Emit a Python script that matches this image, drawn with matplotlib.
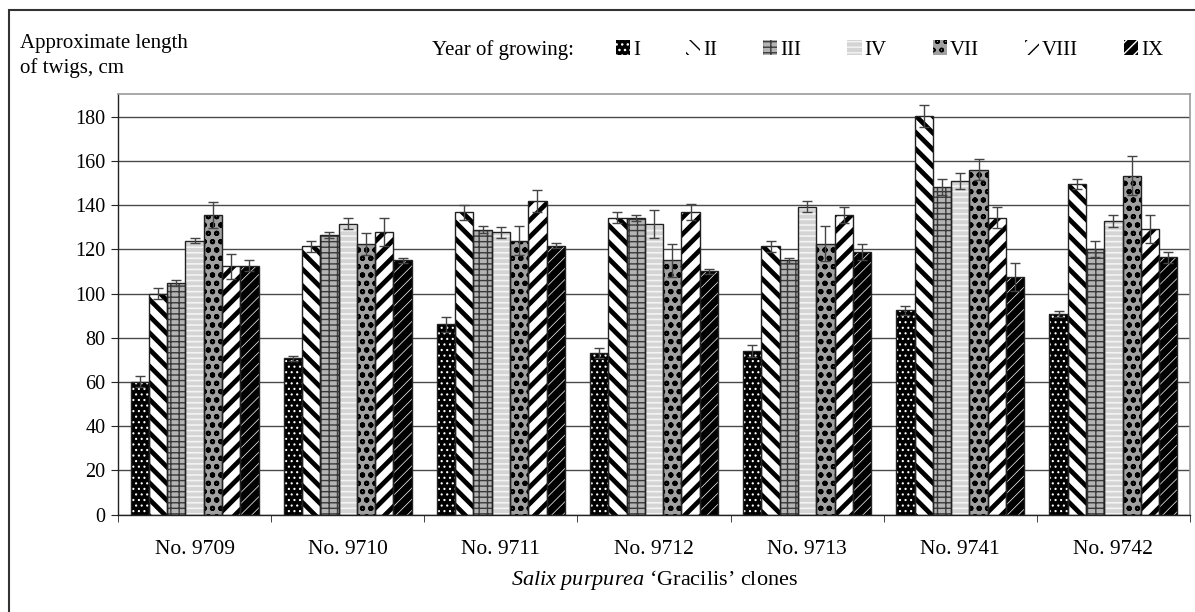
import matplotlib
matplotlib.use("Agg")
import matplotlib.pyplot as plt
from matplotlib.patches import Rectangle, Patch
import numpy as np

clones = ["No. 9709", "No. 9710", "No. 9711", "No. 9712", "No. 9713", "No. 9741", "No. 9742"]
years = ["I", "II", "III", "IV", "VII", "VIII", "IX"]

# mean twig length (cm) per growing year, one value per clone
len_I    = [60.0, 70.6, 86.0, 73.1, 74.2, 92.4, 90.8]
len_II   = [100.0, 121.5, 136.7, 134.2, 121.5, 180.2, 149.5]
len_III  = [104.8, 126.5, 128.9, 134.2, 115.0, 148.2, 120.2]
len_IV   = [124.0, 131.6, 127.8, 131.6, 139.3, 150.8, 132.8]
len_VII  = [135.5, 122.6, 123.9, 115.0, 122.6, 156.0, 153.3]
len_VIII = [112.3, 127.9, 141.9, 136.7, 135.5, 134.3, 129.2]
len_IX   = [112.6, 115.0, 121.7, 110.0, 119.0, 107.5, 116.4]

# standard errors
err_I    = [2.5, 1.0, 3.5, 2.3, 2.7, 2.1, 1.2]
err_II   = [2.5, 2.5, 3.5, 2.5, 2.5, 5.0, 2.3]
err_III  = [1.5, 1.3, 1.5, 1.3, 1.0, 3.8, 3.7]
err_IV   = [1.0, 2.5, 2.5, 6.3, 2.6, 3.7, 2.6]
err_VII  = [6.0, 5.0, 6.5, 7.5, 7.8, 4.8, 8.8]
err_VIII = [5.5, 6.5, 5.0, 3.6, 3.6, 4.8, 6.2]
err_IX   = [2.5, 1.0, 1.0, 1.0, 3.6, 6.3, 2.4]

values = [len_I, len_II, len_III, len_IV, len_VII, len_VIII, len_IX]
errors = [err_I, err_II, err_III, err_IV, err_VII, err_VIII, err_IX]

# fill style per series: face colour, hatch, hatch colour, hatch line width
styles = [
    ("#000000", "...", "#ffffff", 0.8),
    ("#ffffff", "\\\\", "#000000", 3.4),
    ("#b4b4b4", "---||", "#3a3a3a", 1.0),
    ("#d4d4d4", "---", "#f4f4f4", 1.2),
    ("#a0a0a0", "oo", "#000000", 1.4),
    ("#ffffff", "//", "#000000", 3.4),
    ("#000000", "///", "#ffffff", 0.5),
]

plt.rcParams["font.family"] = ["Liberation Serif", "DejaVu Serif"]
plt.rcParams["font.size"] = 14
plt.rcParams["mathtext.fontset"] = "custom"
plt.rcParams["mathtext.rm"] = "Liberation Serif"
plt.rcParams["mathtext.it"] = "Liberation Serif:italic"

W, H = 1195, 612
fig = plt.figure(figsize=(W / 100, H / 100), dpi=100)
ax = fig.add_axes([118 / W, 1 - 514.5 / H, (1190 - 118) / W, (514.5 - 94) / H])

x = np.arange(len(clones))
bw = 0.836 / len(years)
offsets = (np.arange(len(years)) - (len(years) - 1) / 2) * bw

handles = []
for k, (vals, errs, st) in enumerate(zip(values, errors, styles)):
    face, hatch, hcol, hlw = st
    with plt.rc_context({"hatch.linewidth": hlw}):
        bars = ax.bar(x + offsets[k], vals, width=bw, color=face, edgecolor=hcol,
                      linewidth=0, hatch=hatch, zorder=2)
        for b in bars:
            if hasattr(b, "set_hatch_linewidth"):
                b.set_hatch_linewidth(hlw)
    ax.bar(x + offsets[k], vals, width=bw, fill=False, edgecolor="#222222",
           linewidth=1.0, zorder=3)
    ax.errorbar(x + offsets[k], vals, yerr=errs, fmt="none", ecolor="#444444",
                elinewidth=1.0, capsize=3.5, capthick=1.0, zorder=4)
    with plt.rc_context({"hatch.linewidth": min(hlw, 1.5)}):
        h = Patch(facecolor=face, edgecolor=hcol, hatch=hatch, linewidth=0)
        if hasattr(h, "set_hatch_linewidth"):
            h.set_hatch_linewidth(min(hlw, 1.5))
    handles.append(h)

ax.set_xlim(-0.5, len(clones) - 0.5)
ax.set_ylim(0, 190.3)
ax.set_yticks(np.arange(0, 181, 20))
ax.yaxis.grid(True, color="#4a4a4a", linewidth=1.0)
ax.set_axisbelow(True)

ax.set_xticks(x)
ax.set_xticklabels(clones)
ax.set_xticks(np.arange(len(clones) + 1) - 0.5, minor=True)
ax.tick_params(axis="x", which="major", length=0, pad=18, labelsize=15.5)
ax.tick_params(axis="x", which="minor", length=5, direction="out", color="#222222")
ax.tick_params(axis="y", length=5, direction="out", pad=4, labelsize=14.5, color="#222222")

for side in ("left", "bottom"):
    ax.spines[side].set_color("#222222")
    ax.spines[side].set_linewidth(1.0)
for side in ("top", "right"):
    ax.spines[side].set_color("#999999")
    ax.spines[side].set_linewidth(1.2)

ax.set_xlabel("$\\mathit{Salix\\ purpurea}$ \u2018Gracilis\u2019 clones", fontsize=16, labelpad=7)
fig.text(20 / W, 1 - 56 / H, "Approximate length\nof twigs, cm", ha="left", va="center",
         fontsize=15, linespacing=1.35)
fig.text(432 / W, 1 - 50 / H, "Year of growing:", ha="left", va="center", fontsize=15)

fig.legend(handles, years, loc="center left", bbox_to_anchor=(616 / W, 1 - 50 / H),
           ncol=len(years), frameon=False, handlelength=0.68, handleheight=0.68,
           handletextpad=0.15, columnspacing=2.2, borderpad=0, borderaxespad=0,
           fontsize=15)

# outer frame around the chart
fig.add_artist(Rectangle((8.5 / W, -0.05), 1.1, 1.05 - 9.5 / H, transform=fig.transFigure,
                         fill=False, edgecolor="#333333", linewidth=1.5))

fig.savefig("out.png", dpi=100)
